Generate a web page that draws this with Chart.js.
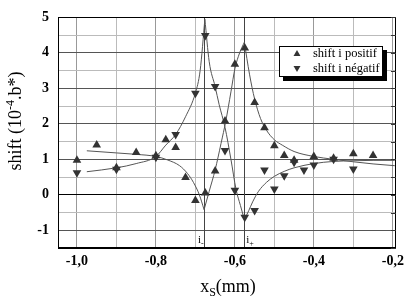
<!DOCTYPE html>
<html><head><meta charset="utf-8">
<script src="https://cdn.jsdelivr.net/npm/chart.js@4"></script>
<style>html,body{margin:0;padding:0;background:#fff;overflow:hidden}#wrap{width:409px;height:299px;position:relative}canvas{display:block}</style>
</head><body><div id="wrap"><canvas id="c" width="409" height="299" style="width:409px;height:299px"></canvas></div>
<script>
// ---- data ----
const posX = [-1.0, -0.95, -0.9, -0.85, -0.8, -0.775, -0.75, -0.725, -0.7, -0.675, -0.65, -0.625, -0.6, -0.575, -0.55, -0.525, -0.5, -0.475, -0.45, -0.4, -0.35, -0.3, -0.25];
const posY = [0.97, 1.4, 0.76, 1.19, 1.1, 1.55, 1.33, 0.49, -0.16, 0.05, 0.67, 2.08, 3.68, 4.14, 2.6, 1.89, 1.38, 1.11, 0.97, 1.08, 1.03, 1.16, 1.11];
const negX = [-1.0, -0.9, -0.8, -0.75, -0.7, -0.675, -0.65, -0.625, -0.6, -0.575, -0.55, -0.525, -0.5, -0.475, -0.45, -0.425, -0.4, -0.35, -0.3];
const negY = [0.62, 0.72, 1.06, 1.7, 2.86, 4.49, 3.05, 1.25, 0.13, -0.63, -0.44, 0.70, 0.16, 0.54, 0.92, 0.70, 0.84, 1.0, 0.73];

// fitted curves, split at the cusps
const fitPosX1 = [-0.975, -0.9, -0.85, -0.8, -0.77, -0.74, -0.72, -0.705, -0.69, -0.678];
const fitPosY1 = [1.24, 1.18, 1.14, 1.08, 0.98, 0.82, 0.6, 0.35, 0.0, -0.42];
const fitPosX2 = [-0.678, -0.665, -0.65, -0.635, -0.623, -0.61, -0.6, -0.588, -0.576];
const fitPosY2 = [-0.42, 0.1, 0.7, 1.45, 2.08, 2.9, 3.55, 4.0, 4.3];
const fitPosX3 = [-0.576, -0.563, -0.55, -0.535, -0.52, -0.5, -0.48, -0.45, -0.4, -0.35, -0.3, -0.25, -0.195];
const fitPosY3 = [4.3, 3.4, 2.7, 2.15, 1.82, 1.55, 1.4, 1.22, 1.08, 1.0, 0.93, 0.87, 0.82];
const fitNegX1 = [-0.975, -0.9, -0.85, -0.8, -0.775, -0.75, -0.725, -0.7, -0.688, -0.676];
const fitNegY1 = [0.65, 0.76, 0.88, 1.08, 1.4, 1.7, 2.2, 2.87, 3.5, 4.95];
const fitNegX2 = [-0.676, -0.665, -0.65, -0.64, -0.625, -0.61, -0.597, -0.586, -0.576];
const fitNegY2 = [4.95, 3.75, 3.05, 2.55, 1.9, 1.0, 0.15, -0.3, -0.7];
const fitNegX3 = [-0.576, -0.565, -0.555, -0.54, -0.52, -0.5, -0.475, -0.45, -0.4, -0.35, -0.3, -0.25, -0.195];
const fitNegY3 = [-0.7, -0.45, -0.2, 0.1, 0.35, 0.52, 0.66, 0.76, 0.88, 0.94, 0.96, 0.97, 0.97];

const iMinusX = -0.678;
const iPlusX = -0.576;

const xTickValues = [-1.0, -0.9, -0.8, -0.7, -0.6, -0.5, -0.4, -0.3, -0.2];
const xTickLabels = ['-1,0', '', '-0,8', '', '-0,6', '', '-0,4', '', '-0,2'];
const yTickValues = [-1.5, -1, -0.5, 0, 0.5, 1, 1.5, 2, 2.5, 3, 3.5, 4, 4.5, 5];
const yTickLabels = ['', '-1', '', '0', '', '1', '', '2', '', '3', '', '4', '', '5'];

const legendLabels = ['shift i positif', 'shift i négatif'];
const yTitleParts = ['shift (10', '-4', '.b*)'];
const xTitleParts = ['x', 'S', '(mm)'];

// ---- build ----
const zip = (xs, ys) => xs.map((x, i) => ({x: x, y: ys[i]}));
const SERIF = "'Liberation Serif', 'DejaVu Serif', serif";
const MARK = '#333';
const LINE = '#555';

function fit(xs, ys) {
  return {data: zip(xs, ys), showLine: true, pointRadius: 0, borderColor: LINE, borderWidth: 1,
          cubicInterpolationMode: 'monotone', fill: false};
}

const framePlugin = {
  id: 'frame',
  beforeDatasetsDraw(chart) {
    const {ctx, chartArea: a, scales: {x}} = chart;
    ctx.save();
    ctx.strokeStyle = '#444'; ctx.lineWidth = 1;
    [iMinusX, iPlusX].forEach(v => {
      const px = Math.round(x.getPixelForValue(v)) + 0.5;
      ctx.beginPath(); ctx.moveTo(px, a.top); ctx.lineTo(px, a.bottom); ctx.stroke();
    });
    ctx.restore();
  },
  afterDraw(chart) {
    const {ctx, chartArea: a, scales: {x, y}} = chart;
    ctx.save();
    // frame
    ctx.strokeStyle = '#000'; ctx.lineWidth = 1;
    ctx.strokeRect(Math.round(a.left) + 0.5, Math.round(a.top) + 0.5, Math.round(a.right - a.left) - 1, Math.round(a.bottom - a.top) - 1);
    // small inner ticks on the right border
    ctx.strokeStyle = '#333';
    yTickValues.forEach(v => {
      const py = Math.round(y.getPixelForValue(v)) + 0.5;
      ctx.beginPath(); ctx.moveTo(a.right - 5, py); ctx.lineTo(a.right, py); ctx.stroke();
    });
    // i labels
    ctx.fillStyle = '#000';
    ctx.textBaseline = 'alphabetic';
    const im = x.getPixelForValue(iMinusX), ip = x.getPixelForValue(iPlusX);
    ctx.font = '11px ' + SERIF;
    ctx.textAlign = 'left';
    ctx.fillText('i', im - 6, a.bottom - 5);
    ctx.fillText('i', ip + 2, a.bottom - 5);
    ctx.font = '8px ' + SERIF;
    ctx.fillText('-', im - 3, a.bottom - 2);
    ctx.fillText('+', ip + 5, a.bottom - 2);

    // y title
    ctx.save();
    ctx.translate(21, 121);
    ctx.rotate(-Math.PI / 2);
    const big = '18px ' + SERIF, small = '12px ' + SERIF;
    ctx.font = big; const w0 = ctx.measureText(yTitleParts[0]).width; const w2 = ctx.measureText(yTitleParts[2]).width;
    ctx.font = small; const w1 = ctx.measureText(yTitleParts[1]).width;
    let sx = -(w0 + w1 + w2) / 2;
    ctx.textAlign = 'left';
    ctx.font = big; ctx.fillText(yTitleParts[0], sx, 0); sx += w0;
    ctx.font = small; ctx.fillText(yTitleParts[1], sx, -7); sx += w1;
    ctx.font = big; ctx.fillText(yTitleParts[2], sx, 0);
    ctx.restore();

    // x title
    {
      const big = '18px ' + SERIF, small = '12px ' + SERIF;
      ctx.font = big; const a0 = ctx.measureText(xTitleParts[0]).width; const a2 = ctx.measureText(xTitleParts[2]).width;
      ctx.font = small; const a1 = ctx.measureText(xTitleParts[1]).width;
      let tx = 228 - (a0 + a1 + a2) / 2;
      const by = 292;
      ctx.font = big; ctx.fillText(xTitleParts[0], tx, by); tx += a0;
      ctx.font = small; ctx.fillText(xTitleParts[1], tx, by + 4); tx += a1;
      ctx.font = big; ctx.fillText(xTitleParts[2], tx, by);
    }

    // legend
    const lx = 279, ly = 46, lw = 104, lh = 31;
    ctx.fillStyle = '#000';
    ctx.fillRect(lx + 4, ly + 4, lw, lh);
    ctx.fillStyle = '#fff';
    ctx.fillRect(lx, ly, lw, lh);
    ctx.strokeStyle = '#000'; ctx.lineWidth = 1;
    ctx.strokeRect(lx + 0.5, ly + 0.5, lw - 1, lh - 1);
    ctx.fillStyle = MARK;
    const tri = (cx, cy, r, up) => {
      ctx.beginPath();
      if (up) { ctx.moveTo(cx, cy - r); ctx.lineTo(cx + r * 0.87, cy + r * 0.5); ctx.lineTo(cx - r * 0.87, cy + r * 0.5); }
      else { ctx.moveTo(cx, cy + r); ctx.lineTo(cx + r * 0.87, cy - r * 0.5); ctx.lineTo(cx - r * 0.87, cy - r * 0.5); }
      ctx.closePath(); ctx.fill();
    };
    tri(297, 54, 4, true);
    tri(297, 68, 4, false);
    ctx.fillStyle = '#000';
    ctx.font = '12.5px ' + SERIF;
    ctx.textAlign = 'left';
    ctx.fillText(legendLabels[0], 313, 57);
    ctx.fillText(legendLabels[1], 313, 72);
    ctx.restore();
  }
};

new Chart(document.getElementById('c'), {
  type: 'scatter',
  data: {
    datasets: [
      {label: legendLabels[0], data: zip(posX, posY), pointStyle: 'triangle', rotation: 0, pointRadius: 5,
       backgroundColor: MARK, borderColor: MARK, borderWidth: 0, showLine: false},
      {label: legendLabels[1], data: zip(negX, negY), pointStyle: 'triangle', rotation: 180, pointRadius: 5,
       backgroundColor: MARK, borderColor: MARK, borderWidth: 0, showLine: false},
      fit(fitPosX1, fitPosY1), fit(fitPosX2, fitPosY2), fit(fitPosX3, fitPosY3),
      fit(fitNegX1, fitNegY1), fit(fitNegX2, fitNegY2), fit(fitNegX3, fitNegY3)
    ]
  },
  options: {
    responsive: false,
    maintainAspectRatio: false,
    animation: false,
    devicePixelRatio: 1,
    layout: {padding: {top: 8, right: 12, left: 0, bottom: 0}},
    plugins: {legend: {display: false}, tooltip: {enabled: false}},
    scales: {
      x: {
        type: 'linear', min: -1.048, max: -0.192,
        afterBuildTicks: s => { s.ticks = xTickValues.map(v => ({value: v})); },
        afterFit: s => { s.height = 51; },
        ticks: {callback: (v, i) => xTickLabels[i], font: {family: SERIF, size: 14, weight: 'bold'}, color: '#000',
                maxRotation: 0, autoSkip: false, padding: 5},
        grid: {drawTicks: false,
               color: c => (Math.abs(Math.round(c.tick.value * 10)) % 2 === 0 ? '#999' : '#bbb'),
               lineWidth: 1},
        border: {display: true, color: '#000', width: 1}
      },
      y: {
        type: 'linear', min: -1.5, max: 5,
        afterBuildTicks: s => { s.ticks = yTickValues.map(v => ({value: v})); },
        afterFit: s => { s.width = 58; },
        ticks: {callback: (v, i) => yTickLabels[i], font: {family: SERIF, size: 14, weight: 'bold'}, color: '#000',
                autoSkip: false, padding: 9},
        grid: {drawTicks: false,
               color: c => { const v = c.tick.value; if (Math.abs(v) < 1e-9) return '#000'; return Number.isInteger(v) ? '#555' : '#bbb'; },
               lineWidth: 1},
        border: {display: true, color: '#000', width: 1}
      }
    }
  },
  plugins: [framePlugin]
});
</script></body></html>
